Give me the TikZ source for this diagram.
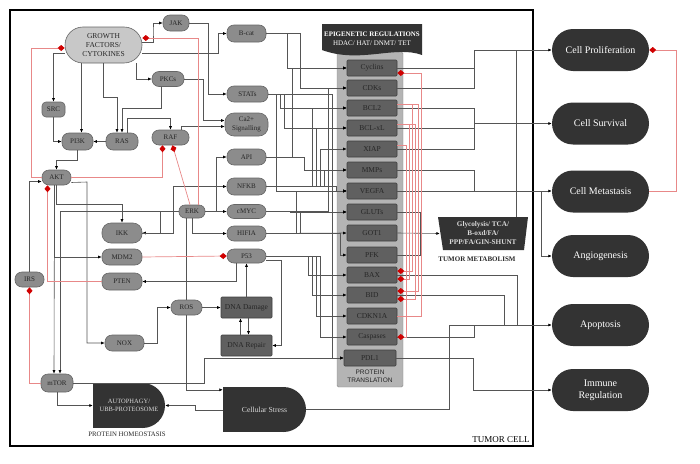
\documentclass[tikz,border=0pt]{standalone}
\usepackage{fontspec}
\setmainfont{Liberation Serif}
\setsansfont{Liberation Sans}
\usetikzlibrary{arrows.meta}
\definecolor{sigfill}{HTML}{8C8C8C}
\definecolor{gffill}{HTML}{C8C8C8}
\definecolor{protfill}{HTML}{606060}
\definecolor{colfill}{HTML}{B4B4B4}
\definecolor{boxdark}{HTML}{333333}
\definecolor{wirecol}{HTML}{555555}
\definecolor{inhcol}{HTML}{E88888}
\definecolor{diacol}{HTML}{D00000}
\definecolor{txtcol}{HTML}{262626}
\begin{document}
\begin{tikzpicture}[x=1pt,y=-1pt,
	sig/.style={draw=black!60,fill=sigfill,rounded corners=7pt,minimum height=15pt,inner sep=1pt,text=txtcol,font=\fontsize{7}{8.5}\selectfont,line width=.6pt,align=center},
	prot/.style={draw=black!75,fill=protfill,rounded corners=1pt,minimum width=50pt,minimum height=16pt,inner sep=1pt,text=txtcol,font=\fontsize{7.5}{9}\selectfont,line width=.6pt,align=center},
	fate/.style={fill=boxdark,rounded corners=21pt,minimum width=97pt,minimum height=42pt,text=white,font=\fontsize{10}{12}\selectfont,align=center},
	wire/.style={draw=wirecol,line width=.6pt,-{Latex[length=3.5pt,width=3pt,color=black]}},
	cable/.style={draw=wirecol,line width=.6pt},
	inh/.style={draw=inhcol,line width=.7pt,-{Diamond[length=7pt,width=6pt,color=diacol]}},
	]
	\newcommand{\tflink}[3]{\draw[wire] (#1.east) -- (#1.east -| #3,0) |- (#2.west);} %bus to protein
	\useasboundingbox (0,0) rectangle (700,463);
	\draw[line width=2.5pt] (10,10) rectangle (533,446); %tumor cell
	\node[font=\fontsize{9}{10}\selectfont] at (501,440) {TUMOR CELL};
	% signalling nodes
	\node[sig,minimum width=77pt,minimum height=36pt,rounded corners=18pt,fill=gffill,font=\fontsize{7.5}{9}\selectfont] (gf) at (103.5,45) {GROWTH\\FACTORS/\\CYTOKINES};
	\node[sig,minimum width=26pt,minimum height=16pt] (jak) at (176,23) {JAK};
	\node[sig,minimum width=39pt,minimum height=17pt] (bcat) at (246.5,33.5) {B-cat};
	\node[sig,minimum width=32pt] (pkcs) at (168,79) {PKCs};
	\node[sig,minimum width=23pt,rounded corners=4pt] (src) at (53.5,109.5) {SRC};
	\node[sig,minimum width=31pt,minimum height=17pt] (pi3k) at (77.5,141.5) {PI3K};
	\node[sig,minimum width=32pt,minimum height=17pt] (ras) at (122,141.5) {RAS};
	\node[sig,minimum width=37pt] (raf) at (170.5,137.5) {RAF};
	\node[sig,minimum width=41pt,minimum height=16pt] (stats) at (247.5,94) {STATs};
	\node[sig,minimum width=43pt,minimum height=23pt,rounded corners=9pt] (ca) at (246.5,124.5) {Ca2+\\Signalling};
	\node[sig,minimum width=39pt,minimum height=16pt] (api) at (246.5,157) {API};
	\node[sig,minimum width=29pt] (akt) at (56.5,177.5) {AKT};
	\node[sig,minimum width=26pt,minimum height=13pt,rounded corners=6pt] (erk) at (192,211.5) {ERK};
	\node[sig,minimum width=39pt,minimum height=17pt] (nfkb) at (246.5,186.5) {NFKB};
	\node[sig,minimum width=39pt,minimum height=14pt] (cmyc) at (246.5,211.5) {cMYC};
	\node[sig,minimum width=39pt] (hif) at (246.5,233.5) {HIFIA};
	\node[sig,minimum width=39pt,minimum height=14pt] (p53) at (246.5,256) {P53};
	\node[sig,minimum width=40pt,minimum height=20pt,rounded corners=9pt] (ikk) at (122,233) {IKK};
	\node[sig,minimum width=40pt,minimum height=16pt] (mdm2) at (122,257) {MDM2};
	\node[sig,minimum width=40pt,minimum height=17pt] (pten) at (122,281.5) {PTEN};
	\node[sig,minimum width=29pt] (irs) at (29.5,279.5) {IRS};
	\node[sig,minimum width=31pt] (ros) at (186.5,307.5) {ROS};
	\node[sig,minimum width=39pt,minimum height=16pt] (nox) at (124.5,343) {NOX};
	\node[prot,minimum width=51pt,minimum height=21pt] (dnad) at (246.5,307.5) {DNA Damage};
	\node[prot,minimum width=51pt,minimum height=21pt] (dnar) at (246.5,345.5) {DNA Repair};
	\node[sig,minimum width=32pt,minimum height=18pt] (mtor) at (57,383) {mTOR};
	% protein translation column
	\filldraw[fill=colfill,draw=black!45,rounded corners=1.5pt] (337,52) rectangle (403,387);
	\fill[boxdark] (322,24) -- (422,24) -- (422,55) .. controls (395,45) and (360,64) .. (322,50) -- cycle; %epigenetic banner
	\node[text=white,font=\fontsize{6.9}{8}\selectfont\bfseries] at (372,34) {EPIGENETIC REGULATIONS};
	\node[text=white,font=\fontsize{7}{8}\selectfont] at (372,43.5) {HDAC/ HAT/ DNMT/ TET};
	\foreach \nm/\tx/\yy in {cyclins/Cyclins/68,cdks/CDKs/88,bcl2/BCL2/108,bclxl/BCL-xL/128,xiap/XIAP/149,mmps/MMPs/170,vegfa/VEGFA/191,gluts/GLUTs/212,got1/GOT1/233,pfk/PFK/255,bax/BAX/275,bid/BID/295,cdkn1a/CDKN1A/316,casp/Caspases/337}
		\node[prot] (\nm) at (372,\yy) {\tx};
	\node[prot,minimum width=52pt] (pdl1) at (370,358) {PDL1};
	\node[font=\sffamily\fontsize{6.5}{8.5}\selectfont,align=center,text=txtcol] at (370,376.5) {PROTEIN\\TRANSLATION};
	% homeostasis, stress, metabolism
	\fill[boxdark] (93,383) rectangle (142.5,428);
	\fill[boxdark] (142.5,405.5) circle[radius=22.5];
	\node[minimum width=72pt,minimum height=45pt,text=white!85!black,font=\fontsize{6.5}{8.5}\selectfont,align=center] (auto) at (129,405.5) {AUTOPHAGY/\\UBB-PROTEOSOME};
	\node[font=\fontsize{6.8}{8}\selectfont,text=txtcol] at (127,434.5) {PROTEIN HOMEOSTASIS};
	\fill[boxdark] (223,387) rectangle (283.5,432);
	\fill[boxdark] (283.5,409.5) circle[radius=22.5];
	\node[minimum width=83pt,minimum height=45pt,text=white!85!black,font=\fontsize{7.7}{9}\selectfont] (stress) at (264.5,409.5) {Cellular Stress};
	\fill[boxdark] (438,217) -- (528,217) -- (524,250) -- (443,250) -- cycle;
	\node[minimum width=86pt,minimum height=33pt,text=white!85!black,font=\fontsize{7.2}{9}\selectfont\bfseries,align=center] (metab) at (483,233.5) {Glycolysis/ TCA/\\B-oxd/FA/\\PPP/FA/GIN-SHUNT};
	\node[font=\fontsize{7}{8}\selectfont\bfseries,text=txtcol] at (477,259.5) {TUMOR METABOLISM};
	% cell fates
	\node[fate] (prolif) at (600.5,50) {Cell Proliferation};
	\node[fate] (surv) at (600.5,123.5) {Cell Survival};
	\node[fate] (metast) at (600.5,191.5) {Cell Metastasis};
	\node[fate] (angio) at (600.5,256) {Angiogenesis};
	\node[fate] (apop) at (600.5,325) {Apoptosis};
	\node[fate] (immune) at (600.5,390) {Immune\\Regulation};
	% upstream wiring
	\draw[wire] ([yshift=3pt]gf.east) -| (153,30) -- (153,23) -- (jak.west);
	\draw[wire] ([yshift=-8pt]gf.east) -- (218,53) |- (bcat.west);
	\draw[wire] ([xshift=-6pt]gf.south east) |- (pkcs.west);
	\draw[wire] ([yshift=-8pt]gf.west) -| (src.north);
	\draw[wire] ([xshift=4pt]pi3k.north |- gf.south) -- ([xshift=4pt]pi3k.north);
	\draw[wire] (gf.south) -- (gf.south |- 0,97) -| ([xshift=-5pt]ras.north);
	\draw[wire] ([xshift=-7pt]pkcs.south) -- ++(0,21) -| (ras.north);
	\draw[wire] ([xshift=5pt]ras.north) -- ++(0,-14) -| (raf.north);
	\draw[wire] (ras.west) -- (pi3k.east);
	\draw[wire] (src.south) |- (pi3k.west);
	\draw[wire] (jak.east) -- (208,23) |- (stats.west);
	\draw[wire] (pkcs.east) -- (203,79) |- ([yshift=4pt]ca.west);
	\draw[wire] ([xshift=11pt]raf.north) |- ([yshift=-2pt]ca.west);
	\draw[wire] (pi3k.south) -- ++(0,10) -| (akt.north);
	\draw[wire] (irs.north) |- ([yshift=-4pt]akt.west);
	\draw[wire] (akt.south) -- ++(0,19) -| (ikk.north);
	\draw[wire] ([xshift=-2pt]akt.south) |- (mdm2.west);
	\draw[wire] ([xshift=-2pt]akt.south) -- ([xshift=-3pt]mtor.north);
	\draw[wire] (erk.west) -| ([xshift=3pt]mtor.north);
	\draw[wire] ([yshift=-5pt]akt.east) -- (87,182) |- (nox.west);
	\draw[wire] (erk.west) -- (160,211.5) |- (ikk.east);
	\draw[wire] (ikk.east) -- (173,233) |- (nfkb.west);
	\draw[wire] (erk.east) -- (216,211.5) |- (api.west);
	\draw[wire] (erk.east) -- (cmyc.west);
	\draw[wire] (erk.south) |- (hif.west);
	\draw[cable] (ros.north) -- (ros.north |- erk.south);
	\draw[wire] ([xshift=-10pt]p53.south) |- (pten.east);
	\draw[wire] (dnad.north) -- (p53.south);
	\draw[wire] ([xshift=2pt]dnad.south) -- ([xshift=2pt]dnar.north);
	\draw[wire] ([xshift=-6pt]dnar.north) -- ([xshift=-6pt]dnad.south);
	\draw[wire] (ros.east) -- (dnad.west);
	\draw[wire] (nox.east) -- (157,343) |- (ros.west);
	\draw[wire] ([yshift=-4pt]p53.east) -- (281,260) |- (dnar.east);
	\draw[wire] (ros.south) |- ([yshift=-3pt]stress.north west);
	\draw[wire] ([yshift=-1pt]stress.west) -- (195,410.5) |- (auto.east);
	\draw[wire] (mtor.south) |- (auto.west);
	\draw[wire] (mtor.east) -- (204,383) |- (pdl1.west);
	% inhibitions
	\draw[inh] ([xshift=6pt]erk.north) |- ([yshift=7pt]gf.east);
	\draw[inh] (akt.west) -- (31,177.5) |- ([yshift=-3pt]gf.west);
	\draw[inh] (akt.east) -| ([xshift=-8pt]raf.south);
	\draw[inh] ([xshift=-2pt]erk.north) -- ([xshift=2pt]raf.south);
	\draw[inh] (pten.west) -| ([xshift=-9pt]akt.south);
	\draw[inh] (mtor.west) -| (irs.south);
	\draw[inh] (mdm2.east) -- (p53.west);
	% transcription to proteins
	\tflink{bcat}{cyclins}{287}
	\tflink{bcat}{cdks}{300}
	\tflink{stats}{vegfa}{276}
	\tflink{stats}{bcl2}{280}
	\tflink{stats}{bclxl}{284}
	\tflink{stats}{pdl1}{332}
	\tflink{api}{cyclins}{292}
	\tflink{api}{mmps}{304}
	\tflink{nfkb}{bcl2}{312}
	\tflink{nfkb}{bclxl}{316}
	\tflink{nfkb}{xiap}{320}
	\tflink{nfkb}{mmps}{324}
	\tflink{nfkb}{vegfa}{336}
	\tflink{cmyc}{cdks}{328}
	\tflink{cmyc}{gluts}{290}
	\tflink{hif}{vegfa}{296}
	\tflink{hif}{gluts}{300}
	\tflink{hif}{pfk}{340}
	\draw[wire] (hif.east) -- (got1.west);
	\tflink{p53}{bax}{308}
	\tflink{p53}{bid}{312}
	\tflink{p53}{cdkn1a}{316}
	\tflink{p53}{casp}{320}
	% proteins to fates
	\draw[cable] (cdks.east) -| (474,50);
	\draw[wire] (cyclins.east) -| (474,50) -- (prolif.west);
	\draw[cable] (516,217) -- (516,50);
	\draw[cable] (bcl2.east) -| (474,123.5);
	\draw[cable] (xiap.east) -| (474,123.5);
	\draw[wire] (bclxl.east) -| (474,123.5) -- (surv.west);
	\draw[cable] (mmps.east) -| (474,191.5);
	\draw[wire] (vegfa.east) -- (vegfa.east -| metast.west);
	\draw[wire] (541,191) |- (angio.west);
	\draw[cable] (gluts.east) -| (420,233);
	\draw[cable] (pfk.east) -| (420,233);
	\draw[wire] (got1.east) -- (metab.west);
	\draw[cable] (bax.east) -| (517,325);
	\draw[cable] (bid.east) -| (504,325);
	\draw[cable] (casp.east) -| (474,325);
	\draw[cable] (stress.east) -| (449,325);
	\draw[wire] (449,325) -- (apop.west);
	\draw[wire] (pdl1.east) -| (473,390) -- (immune.west);
	% inhibitions among proteins
	\draw[inh] (cdkn1a.east) -| (421,73) -- ([yshift=-5pt]cyclins.east);
	\draw[inh] ([yshift=4pt]bcl2.east) -| (412,271) -- ([yshift=4pt]bax.east);
	\draw[inh] ([yshift=4pt]bcl2.east) -| (418,291) -- ([yshift=4pt]bid.east);
	\draw[inh] ([yshift=4pt]bclxl.east) -| (409,279) -- ([yshift=-4pt]bax.east);
	\draw[inh] ([yshift=4pt]bclxl.east) -| (415,299) -- ([yshift=-4pt]bid.east);
	\draw[inh] ([yshift=4pt]xiap.east) -| (406,337) -- (casp.east);
	\draw[inh] (metast.east) -- (676,191.5) |- (prolif.east);
\end{tikzpicture}
\end{document}
